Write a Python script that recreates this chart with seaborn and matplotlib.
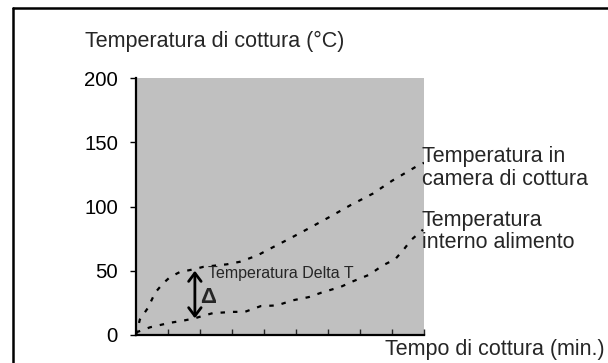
import matplotlib
matplotlib.use("Agg")
import matplotlib.pyplot as plt
from matplotlib.lines import Line2D
import seaborn as sns
import pandas as pd

# Cooking chamber temperature (°C) over cooking time (min.)
camera_t = [0, 0.12, 0.37, 0.6, 0.84, 1.06, 1.37, 1.78, 2.1, 2.84, 3.25, 3.8,
            4.1, 4.8, 5.4, 6.06, 6.7, 7.4, 8.0, 8.75, 9.0]
camera_temp = [0, 12, 21, 33, 40, 45, 49, 51, 53, 55, 57, 62,
               66, 75, 83, 92, 101, 110, 120, 131, 134]

# Food core temperature (°C) over cooking time (min.)
interno_t = [0, 0.44, 1.06, 1.44, 1.84, 2.1, 2.4, 3.03, 3.4, 3.9, 4.4, 4.9,
             5.4, 5.8, 6.4, 6.8, 7.3, 7.7, 8.1, 8.35, 8.6, 8.97]
interno_temp = [2, 6, 9.5, 11, 13, 15, 17, 18, 18, 22.5, 23, 27,
                29.5, 33, 37.5, 42, 47, 54, 59, 66, 74, 82]

# Delta T marker: time and the two temperatures it spans
delta_t = 1.84
delta_low, delta_high = 13, 50

y_ticks = [0, 50, 100, 150, 200]
x_ticks = list(range(10))

sns.set_style("white")
plt.rcParams["font.family"] = ["Liberation Sans", "DejaVu Sans"]

W, H = 608, 363
fig = plt.figure(figsize=(W / 100, H / 100), dpi=100)
ax = fig.add_axes([136 / W, 1 - 335 / H, (424 - 136) / W, (335 - 78) / H])
ax.set_facecolor("#c0c0c0")

df_cam = pd.DataFrame({"t": camera_t, "temp": camera_temp})
df_int = pd.DataFrame({"t": interno_t, "temp": interno_temp})
sns.lineplot(data=df_cam, x="t", y="temp", ax=ax, color="black", lw=1.6,
             linestyle=(0, (2, 3.6)), sort=False, estimator=None)
sns.lineplot(data=df_int, x="t", y="temp", ax=ax, color="black", lw=1.6,
             linestyle=(0, (2, 3.6)), sort=False, estimator=None)

ax.annotate("", xy=(delta_t, delta_low), xytext=(delta_t, delta_high),
            arrowprops=dict(arrowstyle="<->,head_length=0.6,head_width=0.45",
                            lw=2, color="black", shrinkA=0, shrinkB=0))
ax.text(2.0, 29.5, "Δ", fontsize=16, ha="left", va="center",
        fontweight="bold")
ax.text(2.25, 44.3, "Temperatura Delta T", fontsize=11.5, ha="left",
        va="baseline")

ax.set_xlim(0, 9)
ax.set_ylim(0, 200)
ax.set_yticks(y_ticks)
ax.set_xticks(x_ticks)
ax.set_xticklabels([])
ax.set_xlabel("")
ax.set_ylabel("")
ax.tick_params(axis="y", direction="out", length=4, width=1, pad=9,
               labelsize=14.7, left=True, colors="black")
ax.tick_params(axis="x", direction="in", length=4.5, width=1, bottom=True)
for side in ["top", "right"]:
    ax.spines[side].set_visible(False)
for side in ["left", "bottom"]:
    ax.spines[side].set_color("black")
    ax.spines[side].set_linewidth(1.6)

big = 15.5
fig.text(85 / W, 1 - 47 / H, "Temperatura di cottura (°C)", fontsize=big,
         ha="left", va="baseline")
fig.text(385 / W, 1 - 355 / H, "Tempo di cottura (min.)", fontsize=big,
         ha="left", va="baseline")
# Series labels beside the curve ends, one line at a time
for text, base in [("Temperatura in", 162), ("camera di cottura", 185),
                   ("Temperatura", 226), ("interno alimento", 248.5)]:
    fig.text(422 / W, 1 - base / H, text, fontsize=big, ha="left",
             va="baseline")

# Frame lines along the top and left edges
fig.add_artist(Line2D([13 / W, 1], [1 - 8 / H, 1 - 8 / H],
                      transform=fig.transFigure, color="black", lw=1.8))
fig.add_artist(Line2D([13 / W, 13 / W], [0, 1 - 8 / H],
                      transform=fig.transFigure, color="black", lw=1.8))

fig.savefig("out.png", dpi=100)
